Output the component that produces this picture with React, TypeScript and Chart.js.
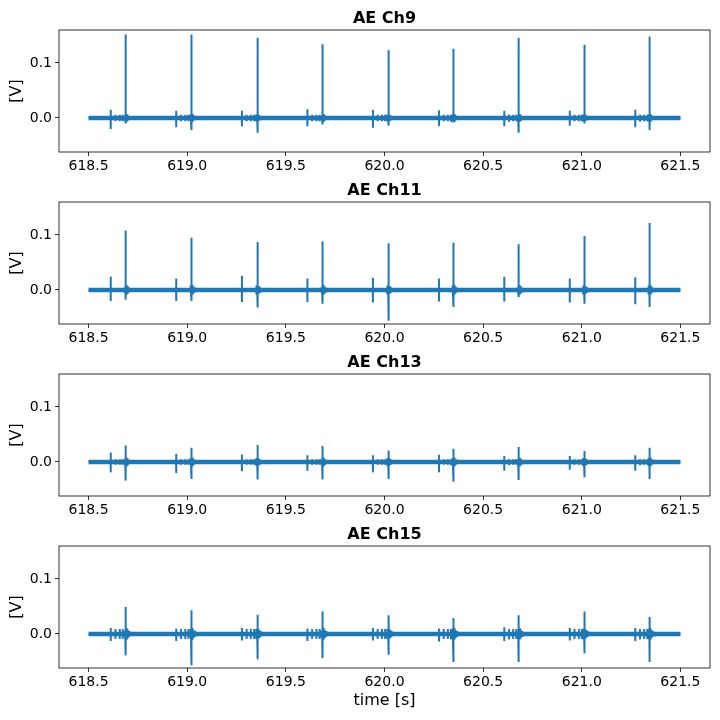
import { useEffect, useRef } from "react";
import { Chart, registerables } from "chart.js";

Chart.register(...registerables);

const FONT = "'DejaVu Sans', sans-serif";
const LINE_BLUE = "#1f77b4";

const channelTitles = ["AE Ch9", "AE Ch11", "AE Ch13", "AE Ch15"];
const recordStart = 618.5;
const recordEnd = 621.5;
const xTickValues = [618.5, 619.0, 619.5, 620.0, 620.5, 621.0, 621.5];
const yTickValues = [0.0, 0.1];
const xMin = 618.35;
const xMax = 621.65;
const yMin = -0.062;
const yMax = 0.16;

// one cycle = small first hit, three little ticks, then the main hit
const preTimes = [618.612, 618.944, 619.277, 619.609, 619.941, 620.276, 620.607, 620.939, 621.271];
const tickTimes = [
  [618.636, 618.658, 618.673],
  [618.968, 618.99, 619.006],
  [619.301, 619.322, 619.339],
  [619.633, 619.655, 619.671],
  [619.965, 619.987, 620.003],
  [620.3, 620.321, 620.337],
  [620.631, 620.652, 620.668],
  [620.963, 620.985, 621.0],
  [621.295, 621.316, 621.332],
];
const mainTimes = [618.689, 619.022, 619.355, 619.687, 620.019, 620.35, 620.681, 621.012, 621.343];

// ringing around the main hit (offset in s, relative size)
const burstOffsets = [-0.006, -0.003, 0.003, 0.006, 0.01, 0.015, 0.021, 0.028, 0.037, 0.048, 0.062];
const burstEnvelope = [0.5, 0.8, 0.9, 0.7, 0.6, 0.45, 0.35, 0.28, 0.2, 0.15, 0.1];

const ch9MainPeaks = [0.152, 0.152, 0.146, 0.134, 0.123, 0.126, 0.146, 0.133, 0.148];
const ch9MainTroughs = [-0.01, -0.022, -0.027, -0.012, -0.014, -0.008, -0.027, -0.01, -0.022];
const ch9PrePeaks = [0.015, 0.013, 0.013, 0.016, 0.015, 0.014, 0.013, 0.013, 0.015];
const ch9PreTroughs = [-0.02, -0.017, -0.015, -0.015, -0.018, -0.014, -0.015, -0.014, -0.017];

const ch11MainPeaks = [0.108, 0.095, 0.087, 0.088, 0.085, 0.086, 0.083, 0.098, 0.122];
const ch11MainTroughs = [-0.018, -0.02, -0.032, -0.025, -0.056, -0.031, -0.013, -0.025, -0.031];
const ch11PrePeaks = [0.024, 0.021, 0.026, 0.021, 0.022, 0.021, 0.024, 0.021, 0.023];
const ch11PreTroughs = [-0.02, -0.02, -0.022, -0.022, -0.023, -0.02, -0.021, -0.023, -0.026];

const ch13MainPeaks = [0.03, 0.026, 0.031, 0.029, 0.021, 0.024, 0.027, 0.02, 0.026];
const ch13MainTroughs = [-0.034, -0.031, -0.032, -0.032, -0.031, -0.036, -0.033, -0.028, -0.031];
const ch13PrePeaks = [0.017, 0.015, 0.013, 0.012, 0.012, 0.013, 0.011, 0.011, 0.012];
const ch13PreTroughs = [-0.019, -0.02, -0.017, -0.016, -0.019, -0.018, -0.016, -0.014, -0.016];

const ch15MainPeaks = [0.049, 0.043, 0.035, 0.041, 0.034, 0.029, 0.034, 0.041, 0.031];
const ch15MainTroughs = [-0.039, -0.057, -0.046, -0.044, -0.038, -0.051, -0.051, -0.035, -0.051];
const ch15PrePeaks = [0.011, 0.01, 0.011, 0.01, 0.011, 0.01, 0.012, 0.011, 0.011];
const ch15PreTroughs = [-0.013, -0.013, -0.012, -0.013, -0.012, -0.013, -0.013, -0.012, -0.013];

const tickAmps = [0.006, 0.003, 0.005, 0.009];
const burstAmps = [0.008, 0.01, 0.009, 0.012];

const mainPeaks = [ch9MainPeaks, ch11MainPeaks, ch13MainPeaks, ch15MainPeaks];
const mainTroughs = [ch9MainTroughs, ch11MainTroughs, ch13MainTroughs, ch15MainTroughs];
const prePeaks = [ch9PrePeaks, ch11PrePeaks, ch13PrePeaks, ch15PrePeaks];
const preTroughs = [ch9PreTroughs, ch11PreTroughs, ch13PreTroughs, ch15PreTroughs];

type Hit = { t: number; hi: number; lo: number };

function buildTrace(ch: number) {
  const hits: Hit[] = [];
  mainTimes.forEach((t, i) => {
    hits.push({ t: preTimes[i], hi: prePeaks[ch][i], lo: preTroughs[ch][i] });
    tickTimes[i].forEach((tt) => hits.push({ t: tt, hi: tickAmps[ch], lo: -tickAmps[ch] }));
    burstOffsets.forEach((off, k) => {
      const a = burstAmps[ch] * burstEnvelope[k];
      hits.push({ t: t + off, hi: a, lo: -a });
    });
    hits.push({ t, hi: mainPeaks[ch][i], lo: mainTroughs[ch][i] });
  });
  hits.sort((a, b) => a.t - b.t);

  const pts = [{ x: recordStart, y: 0 }];
  hits.forEach((h) => {
    pts.push(
      { x: h.t - 0.0003, y: 0 },
      { x: h.t, y: h.hi },
      { x: h.t + 0.0003, y: h.lo },
      { x: h.t + 0.0006, y: 0 },
    );
  });
  pts.push({ x: recordEnd, y: 0 });
  return pts;
}

const framePlugin = {
  id: "frame",
  afterDraw(chart: any) {
    const { ctx, chartArea: a } = chart;
    ctx.save();
    ctx.strokeStyle = "#000";
    ctx.lineWidth = 0.8;
    ctx.strokeRect(a.left, a.top, a.right - a.left, a.bottom - a.top);
    ctx.restore();
  },
};

function AePanel({ ch, last }: { ch: number; last: boolean }) {
  const canvasRef = useRef<HTMLCanvasElement>(null);
  const height = last ? 204 : 172;

  useEffect(() => {
    if (!canvasRef.current) return;
    const chart = new Chart(canvasRef.current, {
      type: "line",
      data: {
        datasets: [
          {
            data: [
              { x: recordStart, y: 0 },
              { x: recordEnd, y: 0 },
            ],
            borderColor: LINE_BLUE,
            borderWidth: 4.5,
            pointRadius: 0,
          },
          {
            data: buildTrace(ch),
            borderColor: LINE_BLUE,
            borderWidth: 2,
            borderJoinStyle: "bevel",
            pointRadius: 0,
          },
        ],
      },
      options: {
        responsive: false,
        animation: false,
        layout: { padding: { left: 0, right: 10, top: 0, bottom: 0 } },
        plugins: {
          legend: { display: false },
          tooltip: { enabled: false },
          title: {
            display: true,
            text: channelTitles[ch],
            color: "#000",
            fullSize: false,
            font: { family: FONT, size: 16, weight: "bold" },
            padding: { top: 9.4, bottom: 1.4 },
          },
        },
        scales: {
          x: {
            type: "linear",
            min: xMin,
            max: xMax,
            afterBuildTicks: (scale: any) => {
              scale.ticks = xTickValues.map((value) => ({ value }));
            },
            afterFit: (scale: any) => {
              scale.height = last ? 52 : 20;
            },
            ticks: {
              color: "#000",
              font: { family: FONT, size: 14 },
              padding: 2,
              maxRotation: 0,
              callback: (v: any) => Number(v).toFixed(1),
            },
            grid: {
              drawOnChartArea: false,
              drawTicks: true,
              tickLength: 4,
              color: "#000",
              lineWidth: 0.8,
            },
            border: { display: false },
            title: {
              display: last,
              text: "time [s]",
              color: "#000",
              font: { family: FONT, size: 16 },
              padding: { top: 0, bottom: 9.4 },
            },
          },
          y: {
            min: yMin,
            max: yMax,
            afterBuildTicks: (scale: any) => {
              scale.ticks = yTickValues.map((value) => ({ value }));
            },
            afterFit: (scale: any) => {
              scale.width = 59;
            },
            ticks: {
              color: "#000",
              font: { family: FONT, size: 14 },
              padding: 3,
              callback: (v: any) => Number(v).toFixed(1),
            },
            grid: {
              drawOnChartArea: false,
              drawTicks: true,
              tickLength: 4,
              color: "#000",
              lineWidth: 0.8,
            },
            border: { display: false },
            title: {
              display: true,
              text: "[V]",
              color: "#000",
              font: { family: FONT, size: 16 },
              padding: { top: 7, bottom: 0 },
            },
          },
        },
      },
      plugins: [framePlugin],
    });

    return () => {
      chart.destroy();
    };
  }, [ch, last]);

  return <canvas ref={canvasRef} width={720} height={height} style={{ display: "block" }} />;
}

export default function App() {
  return (
    <div style={{ position: "absolute", left: 0, top: 0, width: 720, height: 720, background: "#fff" }}>
      {channelTitles.map((_, i) => (
        <AePanel key={i} ch={i} last={i === channelTitles.length - 1} />
      ))}
    </div>
  );
}
